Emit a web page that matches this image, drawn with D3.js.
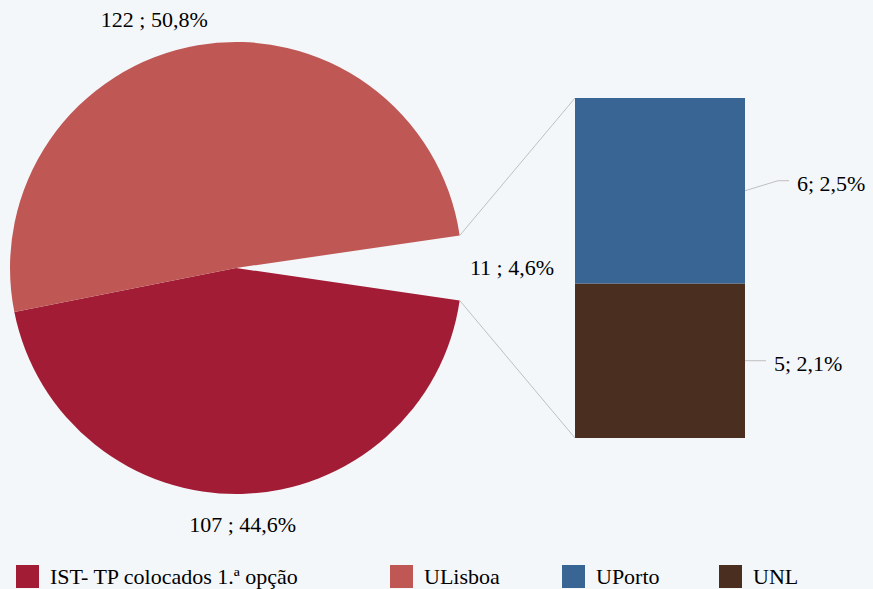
<!DOCTYPE html>
<html><head><meta charset="utf-8">
<script src="https://cdn.jsdelivr.net/npm/d3@7"></script>
</head>
<body style="margin:0;padding:0;background:#F4F7FA;">
<svg id="vis" width="873" height="589" font-family="Liberation Serif" style="display:block;background:#F4F7FA;"></svg>
<script>
// Data
const pieCategories = ["Outras", "IST- TP colocados 1.ª opção", "ULisboa"];
const pieValues = [11, 107, 122];
const pieLabels = ["11 ; 4,6%", "107 ; 44,6%", "122 ; 50,8%"];
const barCategories = ["UNL", "UPorto"];
const barValues = [5, 6];
const barLabels = ["5; 2,1%", "6; 2,5%"];
const legendLabels = ["IST- TP colocados 1.ª opção", "ULisboa", "UPorto", "UNL"];

const colors = {
  "IST- TP colocados 1.ª opção": "#A21C36",
  "ULisboa": "#BF5855",
  "UPorto": "#386594",
  "UNL": "#4A2F20",
  "Outras": "none"
};

const svg = d3.select("#vis");
const cx = 236, cy = 268, R = 226;
const fontSize = 22;

function styleText(sel) {
  return sel.attr("font-family", "Liberation Serif")
    .attr("font-size", fontSize)
    .attr("fill", "#000");
}

const total = d3.sum(pieValues);
const otherAngle = pieValues[0] / total * 2 * Math.PI;
const pie = d3.pie().sort(null).value(d => d)
  .startAngle(Math.PI / 2 - otherAngle / 2)
  .endAngle(Math.PI / 2 - otherAngle / 2 + 2 * Math.PI);
const arcs = pie(pieValues);
const arc = d3.arc().innerRadius(0).outerRadius(R);

const g = svg.append("g").attr("transform", `translate(${cx},${cy})`);
g.selectAll("path").data(arcs).join("path")
  .attr("d", arc)
  .attr("fill", (d, i) => colors[pieCategories[i]]);

// Bar of pie
const barX = 575, barW = 170, barTop = 98, barBottom = 438;
const y = d3.scaleLinear().domain([0, d3.sum(barValues)]).range([barBottom, barTop]);
const stack = [];
let acc = 0;
barValues.forEach((v, i) => { stack.push({cat: barCategories[i], v, y0: acc, y1: acc + v, label: barLabels[i]}); acc += v; });

svg.append("g").selectAll("rect").data(stack).join("rect")
  .attr("x", barX).attr("width", barW)
  .attr("y", d => y(d.y1)).attr("height", d => y(d.y0) - y(d.y1))
  .attr("fill", d => colors[d.cat]);

// Connector lines
const oa = arcs[0];
const pt = a => [cx + R * Math.sin(a), cy - R * Math.cos(a)];
const pStart = pt(oa.startAngle), pEnd = pt(oa.endAngle);
svg.append("line").attr("x1", pStart[0]).attr("y1", pStart[1]).attr("x2", barX).attr("y2", y(d3.sum(barValues)))
  .attr("stroke", "#BFBFBF").attr("stroke-width", 1);
svg.append("line").attr("x1", pEnd[0]).attr("y1", pEnd[1]).attr("x2", barX).attr("y2", y(0))
  .attr("stroke", "#BFBFBF").attr("stroke-width", 1);

// Pie labels
const labelPos = (d, i) => {
  const a = (d.startAngle + d.endAngle) / 2;
  let r, dx = 0;
  if (i === 0) { r = 276; }
  else if (i === 1) { r = 257; }
  else { r = 252; dx = -39; }
  return [cx + r * Math.sin(a) + dx, cy - r * Math.cos(a)];
};
styleText(svg.append("g").selectAll("text").data(arcs).join("text")
  .attr("x", (d, i) => labelPos(d, i)[0])
  .attr("y", (d, i) => labelPos(d, i)[1])
  .attr("dy", "0.33em")
  .attr("text-anchor", "middle")
  .text((d, i) => pieLabels[i]));

// Bar labels with leader lines
const barRight = barX + barW;
stack.forEach(d => {
  const ym = (y(d.y0) + y(d.y1)) / 2;
  if (d.cat === "UPorto") {
    svg.append("polyline")
      .attr("points", `${barRight},${ym} ${barRight + 33},${ym - 10} ${barRight + 44},${ym - 10}`)
      .attr("fill", "none").attr("stroke", "#BFBFBF").attr("stroke-width", 1);
    styleText(svg.append("text").attr("x", barRight + 52).attr("y", ym).text(d.label));
  } else {
    svg.append("line").attr("x1", barRight).attr("y1", ym).attr("x2", barRight + 21).attr("y2", ym)
      .attr("stroke", "#BFBFBF").attr("stroke-width", 1);
    styleText(svg.append("text").attr("x", barRight + 29).attr("y", ym + 10).text(d.label));
  }
});

// Legend
const legendX = [16, 390, 562, 719];
const lg = svg.append("g").selectAll("g").data(legendLabels).join("g")
  .attr("transform", (d, i) => `translate(${legendX[i]},565)`);
lg.append("rect").attr("width", 23).attr("height", 23).attr("fill", d => colors[d]);
styleText(lg.append("text").attr("x", 34).attr("y", 19).text(d => d));
</script>
</body></html>
